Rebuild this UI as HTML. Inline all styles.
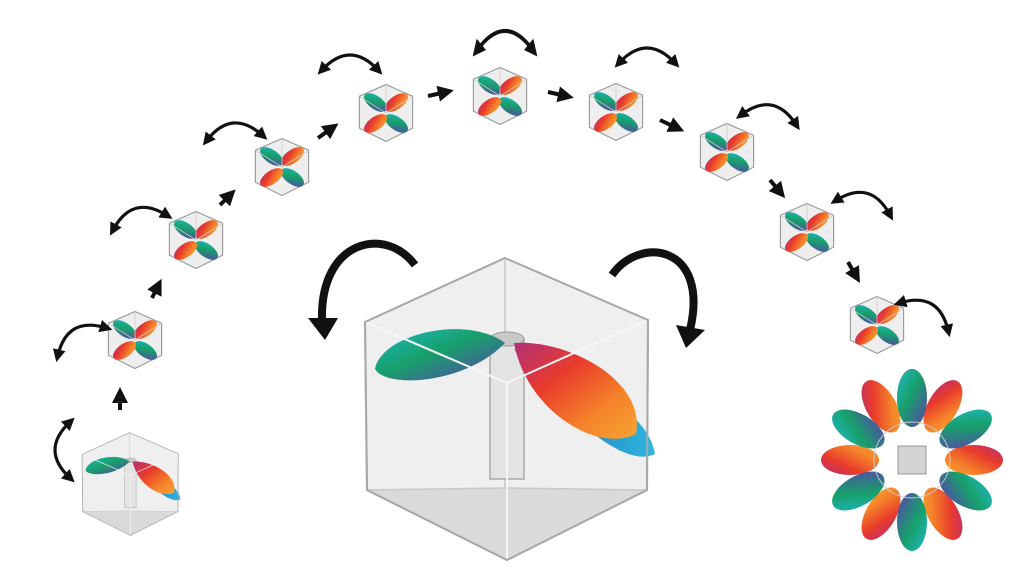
<!DOCTYPE html><html><head><style>html,body{margin:0;background:#fff}</style></head><body>
<svg width="1024" height="576" viewBox="0 0 1024 576" xmlns="http://www.w3.org/2000/svg">
<defs>
<linearGradient id="gb" x1="0" y1="0" x2="1" y2="1"><stop offset="0" stop-color="#1fb8c8"/><stop offset=".45" stop-color="#17a06a"/><stop offset="1" stop-color="#5a3fb0"/></linearGradient>
<linearGradient id="go" x1="0" y1="0" x2="1" y2="1"><stop offset="0" stop-color="#b0307a"/><stop offset=".35" stop-color="#e83a2c"/><stop offset=".7" stop-color="#f5822a"/><stop offset="1" stop-color="#f7a530"/></linearGradient>
<linearGradient id="gl" x1="0" y1="0" x2="1" y2="0"><stop offset="0" stop-color="#1d5fb0"/><stop offset="1" stop-color="#2fb7e0"/></linearGradient>
<marker id="ah" viewBox="0 0 10 10" refX="5" refY="5" markerWidth="4" markerHeight="4" orient="auto-start-reverse"><path d="M0,0L10,5L0,10z" fill="#111"/></marker>
<g id="cube">
<polygon points="-1,-151 142,-89 141,81 1,151 -139,81 -141,-87" fill="#efefef" stroke="#aaa" stroke-width="2"/>
<polygon points="-1,79 141,81 1,151 -139,81" fill="#dadada"/>
<path d="M-1,-151V79M-139,81L-1,79L141,81" stroke="#c8c8c8" stroke-width="1.5" fill="none"/>
<rect x="-16" y="-70" width="34" height="140" fill="#e4e4e4" stroke="#aaa" stroke-width="1.5"/>
<ellipse cx="1" cy="-70" rx="17" ry="7" fill="#c8c8c8" stroke="#999"/>
<path d="M-1,-66 C-40,-95 -125,-75 -131,-40 C-120,-20 -40,-25 -1,-66z" fill="url(#gb)"/>
<path d="M8,-60 C40,-40 140,-10 149,45 C120,60 60,10 8,-60z" fill="url(#gl)"/>
<path d="M8,-66 C60,-70 140,-30 130,25 C90,45 20,0 8,-66z" fill="url(#go)"/>
<polygon points="-1,-151 142,-89 1,-26 -141,-87" fill="none" stroke="#f6f6f6" stroke-width="2"/>
<path d="M1,-26V151" stroke="#f6f6f6" stroke-width="2"/>
<polygon points="-1,-151 142,-89 141,81 1,151 -139,81 -141,-87" fill="none" stroke="#a8a8a8" stroke-width="2"/>
</g>
<g id="mini">
<polygon points="0,-150 140,-88 140,80 0,150 -140,80 -140,-88" fill="#eeeeee" stroke="#999" stroke-width="6"/>
<ellipse cx="-55" cy="-55" rx="70" ry="35" transform="rotate(35 -55 -55)" fill="url(#gb)"/>
<ellipse cx="55" cy="55" rx="70" ry="35" transform="rotate(35 55 55)" fill="url(#gb)"/>
<ellipse cx="55" cy="-55" rx="70" ry="35" transform="rotate(-35 55 -55)" fill="url(#go)"/>
<ellipse cx="-55" cy="55" rx="70" ry="35" transform="rotate(-35 -55 55)" fill="url(#go)"/>
<path d="M0,-150V0M-140,-88L0,0L140,-88" stroke="#ccc" stroke-width="4" fill="none"/>
</g>
<g id="carc"><path d="M-28,8 Q0,-22 28,8" fill="none" stroke="#111" stroke-width="3.2" marker-start="url(#ah)" marker-end="url(#ah)"/></g>
</defs>
<use href="#cube" transform="translate(506,409)"/>
<use href="#cube" transform="translate(130,484) scale(0.34)"/>
<use href="#mini" transform="translate(135,340) scale(0.19)"/>
<use href="#mini" transform="translate(196,240) scale(0.19)"/>
<use href="#mini" transform="translate(282,167) scale(0.19)"/>
<use href="#mini" transform="translate(386,113) scale(0.19)"/>
<use href="#mini" transform="translate(500,96) scale(0.19)"/>
<use href="#mini" transform="translate(616,112) scale(0.19)"/>
<use href="#mini" transform="translate(727,152) scale(0.19)"/>
<use href="#mini" transform="translate(807,232) scale(0.19)"/>
<use href="#mini" transform="translate(877,325) scale(0.19)"/>
<g stroke="#111" stroke-width="4" fill="none" marker-end="url(#ah)">
<path d="M120,410L120,395"/><path d="M152,298L158,286"/><path d="M220,205L230,195"/><path d="M318,138L332,128"/><path d="M428,96L446,92"/><path d="M548,92L566,96"/><path d="M660,120L677,128"/><path d="M770,180L780,192"/><path d="M848,262L856,276"/>
</g>
<use href="#carc" transform="translate(62,450) rotate(-90)"/>
<use href="#carc" transform="translate(78,335) rotate(-30)"/>
<use href="#carc" transform="translate(138,215) rotate(-15)"/>
<use href="#carc" transform="translate(234,130) rotate(-5)"/>
<use href="#carc" transform="translate(350,62)"/>
<use href="#carc" transform="translate(505,40) scale(1,1.3)"/>
<use href="#carc" transform="translate(647,55)"/>
<use href="#carc" transform="translate(770,112) rotate(10)"/>
<use href="#carc" transform="translate(865,200) rotate(15)"/>
<use href="#carc" transform="translate(928,310) rotate(30)"/>
<g fill="none" stroke="#111" stroke-width="8">
<path d="M415,265 C385,225 320,240 322,320"/><path d="M612,275 C640,235 710,245 690,330"/>
</g>
<polygon points="308,318 338,318 325,340" fill="#111"/><polygon points="676,325 705,330 686,348" fill="#111"/>
<g transform="translate(912,460)">
<g id="pp"><ellipse cx="0" cy="-62" rx="15" ry="29" fill="url(#go)"/></g>
<use href="#pp" transform="rotate(30)"/><use href="#pp" transform="rotate(90)"/><use href="#pp" transform="rotate(150)"/><use href="#pp" transform="rotate(210)"/><use href="#pp" transform="rotate(270)"/><use href="#pp" transform="rotate(330)"/>
<g id="pq"><ellipse cx="0" cy="-62" rx="15" ry="29" fill="url(#gb)"/></g>
<use href="#pq" transform="rotate(60)"/><use href="#pq" transform="rotate(120)"/><use href="#pq" transform="rotate(180)"/><use href="#pq" transform="rotate(240)"/><use href="#pq" transform="rotate(300)"/>
<circle r="38" fill="none" stroke="#ccc"/>
<rect x="-14" y="-14" width="28" height="28" fill="#d4d4d4" stroke="#999"/>
</g>
</svg>
</body></html>
